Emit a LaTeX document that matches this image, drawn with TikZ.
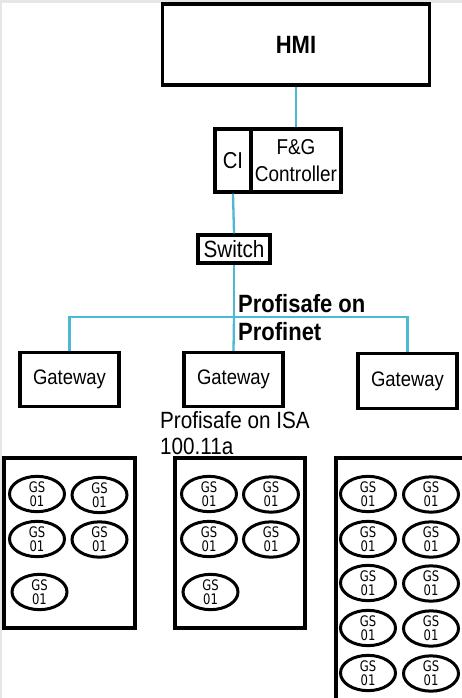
\documentclass[tikz,border=0pt]{standalone}
\usepackage{fontspec}
\setmainfont[FakeStretch=0.88]{Liberation Sans}
\newfontfamily\gsfont[FakeStretch=0.8]{DejaVu Sans}
\definecolor{link}{HTML}{4CB8D4}
\definecolor{edge}{HTML}{E6E6E6}
\tikzset{
  box/.style={draw=black, line width=3.4pt, inner sep=0pt},
  gs/.style={draw=black, line width=3pt, ellipse, minimum width=55pt, minimum height=35pt, inner sep=0pt, align=center, font=\gsfont\fontsize{14.5}{14}\selectfont},
  wire/.style={draw=link, line width=2.3pt},
}
\usetikzlibrary{shapes.geometric}
\begin{document}
\begin{tikzpicture}[x=1pt,y=-1pt]
\useasboundingbox (0,0) rectangle (462,698);
\fill[edge] (0,0) rectangle (462,3);
\fill[edge] (0,0) rectangle (2,698);
% HMI
\node[box, minimum width=267pt, minimum height=81pt, font=\bfseries\fontsize{25}{26}\selectfont] (hmi) at (296,44.5) {HMI};
% controller
\node[box, minimum width=36pt, minimum height=63pt, font=\fontsize{23}{24}\selectfont] (ci) at (233,160.5) {CI};
\node[box, minimum width=90pt, minimum height=63pt, align=center, font=\fontsize{21.5}{27}\selectfont] (fg) at (296,160.5) {F\&G\\Controller};
% switch
\node[box, minimum width=72pt, minimum height=28pt, font=\fontsize{23.5}{25}\selectfont] (sw) at (234,249) {Switch};
% gateways
\node[box, minimum width=99pt, minimum height=54pt, font=\fontsize{21}{23}\selectfont] (g1) at (69.5,379.5) {Gateway};
\node[box, minimum width=99pt, minimum height=54pt, font=\fontsize{21}{23}\selectfont] (g2) at (233.5,379.5) {Gateway};
\node[box, minimum width=99pt, minimum height=55pt, font=\fontsize{21}{23}\selectfont] (g3) at (407.5,381) {Gateway};
% wires
\coordinate (bus) at (234,317);
\draw[wire] (hmi.south) -- (fg.north);
\draw[wire] (ci.south) -- (sw.north);
\draw[wire] (sw.south) -- (bus);
\draw[wire] (g1.north) |- (bus) -| (g3.north);
\draw[wire] (bus) -- (g2.north);
% labels
\node[anchor=west, align=left, inner sep=0pt, font=\bfseries\fontsize{25}{28}\selectfont] (l1) at (238,318) {Profisafe on\\Profinet};
\node[anchor=west, align=left, inner sep=0pt, font=\fontsize{23.5}{26}\selectfont] (l2) at (160,433) {Profisafe on ISA\\100.11a};
% field boxes
\draw[box] (4,458) rectangle (135,628);
\draw[box] (175,458) rectangle (305,628);
\draw[box] (336,458) rectangle (475,710);
% GS left
\node[gs] (a1) at (37,494) {GS\\01};
\node[gs] (a2) at (99.5,495) {GS\\01};
\node[gs] (a3) at (37,539) {GS\\01};
\node[gs] (a4) at (99.5,539.5) {GS\\01};
\node[gs] (a5) at (39.5,592) {GS\\01};
% GS middle
\node[gs] (b1) at (209,494) {GS\\01};
\node[gs] (b2) at (271,494.5) {GS\\01};
\node[gs] (b3) at (209,539) {GS\\01};
\node[gs] (b4) at (271,539.5) {GS\\01};
\node[gs] (b5) at (210.5,592) {GS\\01};
% GS right
\node[gs] (c1) at (368,494) {GS\\01};
\node[gs] (c2) at (431,494.5) {GS\\01};
\node[gs] (c3) at (368,539) {GS\\01};
\node[gs] (c4) at (431,539.5) {GS\\01};
\node[gs] (c5) at (368,583) {GS\\01};
\node[gs] (c6) at (431,583.5) {GS\\01};
\node[gs] (c7) at (368,628) {GS\\01};
\node[gs] (c8) at (431,628.5) {GS\\01};
\node[gs] (c9) at (368,673) {GS\\01};
\node[gs] (c10) at (431,673.5) {GS\\01};
\end{tikzpicture}
\end{document}
